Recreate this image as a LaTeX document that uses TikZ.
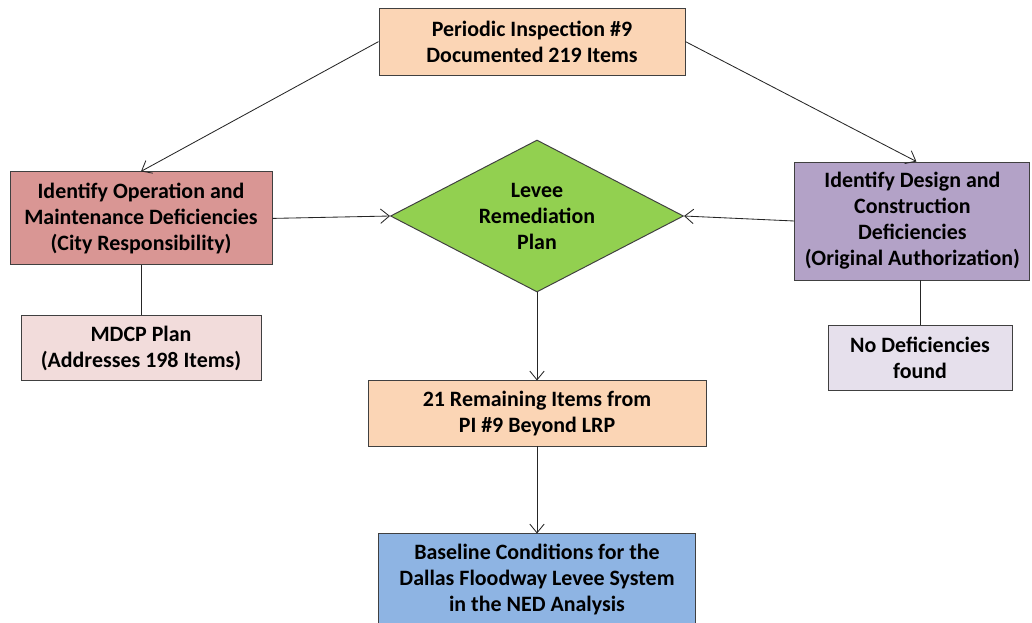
\documentclass[tikz,border=0pt]{standalone}
\usepackage{fontspec}
\setmainfont{Carlito}
\usetikzlibrary{positioning, arrows.meta, shapes.geometric}

\definecolor{peach}{HTML}{FBD5B5}
\definecolor{rosered}{HTML}{D99694}
\definecolor{palerose}{HTML}{F2DCDB}
\definecolor{leafgreen}{HTML}{92D050}
\definecolor{lavender}{HTML}{B3A2C7}
\definecolor{palelilac}{HTML}{E6E0EC}
\definecolor{skyblue}{HTML}{8EB4E3}

\begin{document}
\begin{tikzpicture}[
    flow box/.style={
        draw=black!75, fill=#1, rectangle, line width=0.7pt,
        inner sep=0pt, align=center,
        font=\fontsize{15.6}{18.5}\selectfont\bfseries
    },
    plan diamond/.style={
        draw=black!75, fill=#1, diamond, line width=0.7pt,
        inner sep=0pt, aspect=1.93, align=center,
        font=\fontsize{15.6}{18.5}\selectfont\bfseries
    },
    flow/.style={-{Straight Barb[length=2.2mm, width=3.6mm]}, line width=0.6pt, draw=black!85},
    link/.style={line width=0.7pt, draw=black!85}
]

% Marco de la figura
\useasboundingbox (0,0) rectangle (25.8,-15.55);
\clip (0,0) rectangle (25.8,-15.55);

% ------------------------------------------------------------------------------
% 1. NODOS PRINCIPALES
% ------------------------------------------------------------------------------
\node[flow box=peach, minimum width=7.65cm, minimum height=1.675cm] (inspection) at (13.3,-1.04)
    {Periodic Inspection \#9\\Documented 219 Items};
\node[flow box=rosered, minimum width=6.55cm, minimum height=2.325cm] (omdef) at (3.525,-5.46)
    {Identify Operation and\\Maintenance Deficiencies\\(City Responsibility)};
\node[plan diamond=leafgreen, minimum width=7.325cm, minimum height=3.8cm] (lrp) at (13.425,-5.4)
    {Levee\\Remediation\\Plan};
\node[flow box=lavender, minimum width=5.875cm, minimum height=2.95cm] (dcdef) at (22.81,-5.525)
    {Identify Design and\\Construction\\Deficiencies\\(Original Authorization)};

% ------------------------------------------------------------------------------
% 2. NODOS SECUNDARIOS (debajo de cada rama)
% ------------------------------------------------------------------------------
\node[flow box=palerose, minimum width=6cm, minimum height=1.625cm, below=1.25cm of omdef] (mdcp)
    {MDCP Plan\\(Addresses 198 Items)};
\node[flow box=palelilac, minimum width=4.6cm, minimum height=1.625cm] (nodef) at (23,-8.94)
    {No Deficiencies\\found};
\node[flow box=peach, minimum width=8.45cm, minimum height=1.625cm, below=2.2cm of lrp] (remaining)
    {21 Remaining Items from\\PI \#9 Beyond LRP};
\node[flow box=skyblue, minimum width=7.925cm, minimum height=2.3cm, below=2.175cm of remaining] (baseline)
    {Baseline Conditions for the\\Dallas Floodway Levee System\\in the NED Analysis};

% ------------------------------------------------------------------------------
% 3. CONECTORES
% ------------------------------------------------------------------------------
\draw[flow] (inspection.west) -- (omdef.north);
\draw[flow] (inspection.east) -- ([xshift=1mm]dcdef.north);
\draw[flow] (omdef.east) -- (lrp.west);
\draw[flow] (dcdef.west) -- (lrp.east);
\draw[flow] (lrp.south) -- (remaining.north);
\draw[flow] (remaining.south) -- (baseline.north);

\draw[link] (omdef.south) -- (mdcp.north);
\draw[link] (nodef.north |- dcdef.south) -- (nodef.north);

\end{tikzpicture}
\end{document}
